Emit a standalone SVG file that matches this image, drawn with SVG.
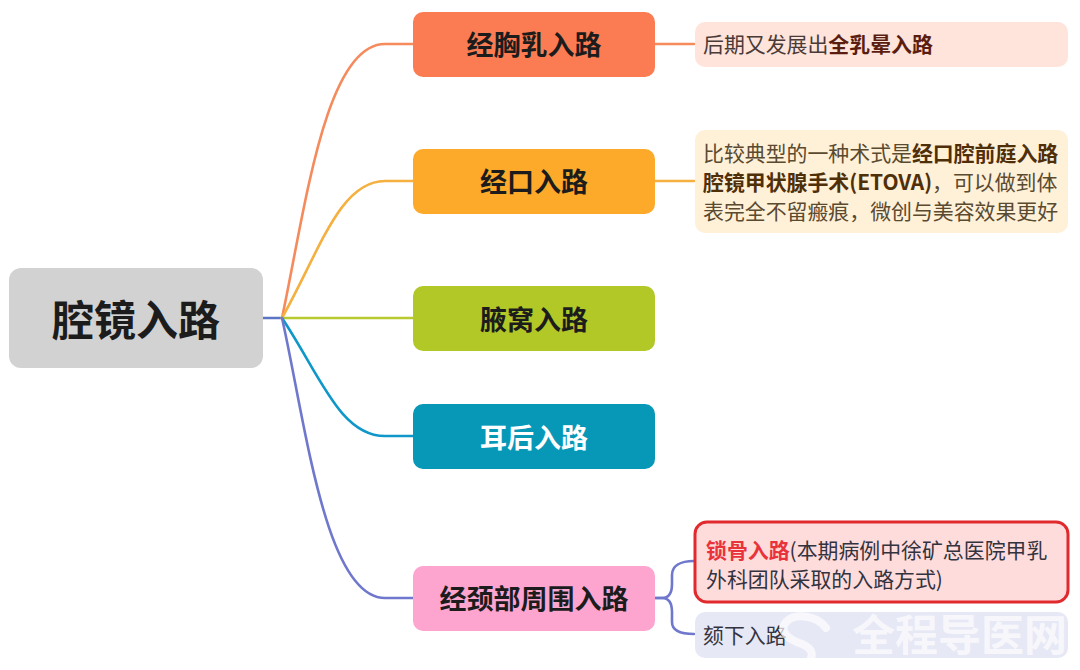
<svg xmlns="http://www.w3.org/2000/svg" width="1080" height="670" viewBox="0 0 1080 670">
<style>
text{font-family:"Liberation Sans","Noto Sans CJK SC",sans-serif;fill:#33333f}
.t{font-family:"Noto Sans CJK SC",sans-serif;font-weight:700;font-size:27px;text-anchor:middle;fill:#1c1c1c}
.s{font-family:"Noto Sans CJK SC",sans-serif;font-size:20.9px}
.b{font-weight:700}
.c{fill:none;stroke-width:2.6;stroke-linecap:round}
</style>
<rect width="1080" height="670" fill="#fff"/>
<g id="connectors">
<path class="c" stroke="#5b75c4" d="M263 318H282"/>
<path class="c" stroke="#f58a5c" d="M282 318C305 210 325 44 385 44H413"/>
<path class="c" stroke="#f5b040" d="M282 318C320 250 340 181 385 181H413"/>
<path class="c" stroke="#b8c92f" d="M282 318H413"/>
<path class="c" stroke="#0e97c8" d="M282 318C320 375 340 436 385 436H413"/>
<path class="c" stroke="#6f78cc" d="M282 318C305 420 325 598 385 598H413"/>
<path class="c" stroke="#f58a5c" d="M655 44H694"/>
<path class="c" stroke="#f5b040" d="M655 181H694"/>
<path class="c" stroke="#6f78cc" d="M655 598H662C670 598 672 592 672 584V575C672 566 680 561 694 561"/>
<path class="c" stroke="#6f78cc" d="M655 598H662C670 598 672 604 672 612V622C672 631 680 634 694 634"/>
</g>
<g id="root"><rect x="9" y="268" width="254" height="100" rx="12" fill="#d2d2d2"/><text x="136" y="336" class="t" style="font-size:42px">腔镜入路</text></g>
<g id="n1"><rect x="413" y="12" width="242" height="65" rx="10" fill="#fb7c52"/><text x="534" y="55" class="t">经胸乳入路</text></g>
<g id="n2"><rect x="413" y="149" width="242" height="65" rx="10" fill="#fdaa2b"/><text x="534" y="192" class="t">经口入路</text></g>
<g id="n3"><rect x="413" y="286" width="242" height="65" rx="10" fill="#b2c827"/><text x="534" y="330" class="t">腋窝入路</text></g>
<g id="n4"><rect x="413" y="404" width="242" height="65" rx="10" fill="#0798b8"/><text x="534" y="448" class="t" style="fill:#fff">耳后入路</text></g>
<g id="n5"><rect x="413" y="566" width="242" height="65" rx="10" fill="#fda5cf"/><text x="534" y="609" class="t">经颈部周围入路</text></g>
<g id="d1"><rect x="695" y="22" width="373" height="45" rx="10" fill="#fee4da"/><text x="703" y="52" class="s" style="fill:#4a3a38">后期又发展出<tspan class="b" style="fill:#5a1d10">全乳晕入路</tspan></text></g>
<g id="d2"><rect x="695" y="130" width="373" height="103" rx="10" fill="#fff0d8"/>
<text x="703" y="161" class="s" style="fill:#5a4a30">比较典型的一种术式是<tspan class="b" style="fill:#4f2f08">经口腔前庭入路</tspan></text>
<text x="703" y="190" class="s" style="fill:#5a4a30"><tspan class="b" style="fill:#4f2f08">腔镜甲状腺手术(ETOVA)</tspan>，可以做到体</text>
<text x="703" y="219" class="s" style="fill:#5a4a30">表完全不留瘢痕，微创与美容效果更好</text></g>
<g id="d3"><rect x="695" y="522" width="373" height="80" rx="12" fill="#ffdcdc" stroke="#e02a2e" stroke-width="3"/>
<text x="706" y="558" class="s"><tspan class="b" style="fill:#e8333a">锁骨入路</tspan>(本期病例中徐矿总医院甲乳</text>
<text x="706" y="587" class="s">外科团队采取的入路方式)</text></g>
<g id="d4"><rect x="695" y="612" width="373" height="46" rx="10" fill="#e6e8f5"/><text x="703" y="643" class="s">颏下入路</text></g>
<g id="watermark"><path d="M826 628C818 616 795 612 786 622C778 632 790 640 802 644C812 648 816 656 806 664" fill="none" stroke="#fff" stroke-opacity=".7" stroke-width="8" stroke-linecap="round"/><text x="852" y="651" style="font-family:'Noto Sans CJK SC',sans-serif;font-size:43px;font-weight:700;fill:#fff;fill-opacity:.7">全程导医网</text></g>
</svg>
